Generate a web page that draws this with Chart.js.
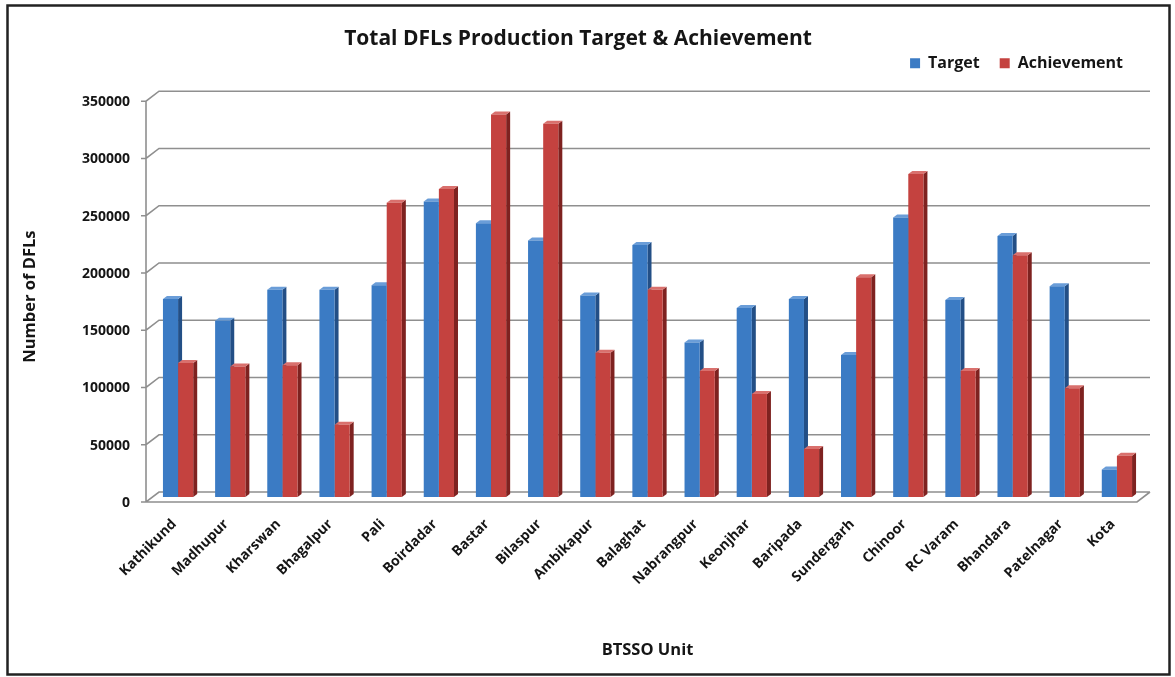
<!DOCTYPE html>
<html>
<head>
<meta charset="utf-8">
<title>Total DFLs Production Target & Achievement</title>
<script src="https://cdn.jsdelivr.net/npm/chart.js@4.4.1/dist/chart.umd.min.js"></script>
<style>
    html, body { margin: 0; padding: 0; background: #fff; }
    #wrap { width: 1175px; height: 677px; }
</style>
</head>
<body>
<div id="wrap"><canvas id="dflChart" width="1175" height="677"></canvas></div>
<script>
// Units and their figures
const units = ['Kathikund', 'Madhupur', 'Kharswan', 'Bhagalpur', 'Pali', 'Boirdadar', 'Bastar',
    'Bilaspur', 'Ambikapur', 'Balaghat', 'Nabrangpur', 'Keonjhar', 'Baripada', 'Sundergarh',
    'Chinoor', 'RC Varam', 'Bhandara', 'Patelnagar', 'Kota'];
const target = [173000, 154000, 181000, 181000, 185000, 258000, 239000, 224000, 176000, 220000,
    135000, 165000, 173000, 124000, 244000, 172000, 228000, 184000, 24000];
const achievement = [117000, 114000, 115000, 63000, 257000, 269000, 334000, 326000, 126000, 181000,
    110000, 90000, 42000, 192000, 282000, 110000, 211000, 95000, 36000];
const yTicks = [0, 50000, 100000, 150000, 200000, 250000, 300000, 350000];

const FONT = "'Open Sans', 'DejaVu Sans', sans-serif";
const INK = '#151515';

// front plane / back wall offsets relative to the bar plane
const front = { x: -6, y: 5 };
const back = { x: 7, y: -5 };
const depth = { x: 4, y: 3 };

// white page with a dark frame
const framePlugin = {
    id: 'frame',
    beforeDraw(chart) {
        const ctx = chart.ctx;
        ctx.save();
        ctx.fillStyle = '#fff';
        ctx.fillRect(0, 0, chart.width, chart.height);
        ctx.strokeStyle = '#222';
        ctx.lineWidth = 2.5;
        ctx.strokeRect(7.5, 5.5, chart.width - 13, chart.height - 8);
        ctx.restore();
    }
};

// back wall gridlines, floor and front axis
const wallPlugin = {
    id: 'wall',
    beforeDatasetsDraw(chart) {
        const ctx = chart.ctx;
        const { left, right, top, bottom } = chart.chartArea;
        const y = chart.scales.y;
        ctx.save();
        ctx.strokeStyle = '#8f8f8f';
        ctx.lineWidth = 1.6;
        ctx.beginPath();
        yTicks.forEach(v => {
            const py = y.getPixelForValue(v);
            ctx.moveTo(left + front.x - 5, py + front.y);
            ctx.lineTo(left + front.x, py + front.y);
            ctx.lineTo(left + back.x, py + back.y);
            ctx.lineTo(right + back.x, py + back.y);
        });
        // front axis line
        ctx.moveTo(left + front.x, top + front.y);
        ctx.lineTo(left + front.x, bottom + front.y);
        // floor front edge and right side
        ctx.moveTo(left + front.x, bottom + front.y);
        ctx.lineTo(right + front.x, bottom + front.y);
        ctx.lineTo(right + back.x, bottom + back.y);
        ctx.stroke();
        ctx.restore();
    }
};

// side and top faces of each bar, drawn before the fronts
const bars3dPlugin = {
    id: 'bars3d',
    beforeDatasetsDraw(chart) {
        const ctx = chart.ctx;
        ctx.save();
        chart.data.datasets.forEach((ds, i) => {
            chart.getDatasetMeta(i).data.forEach(bar => {
                const { x, y, base, width } = bar.getProps(['x', 'y', 'base', 'width'], true);
                const l = x - width / 2;
                const r = x + width / 2;

                ctx.fillStyle = ds.sideColor;
                ctx.beginPath();
                ctx.moveTo(r, y);
                ctx.lineTo(r + depth.x, y - depth.y);
                ctx.lineTo(r + depth.x, base - depth.y);
                ctx.lineTo(r, base);
                ctx.closePath();
                ctx.fill();

                ctx.fillStyle = ds.topColor;
                ctx.beginPath();
                ctx.moveTo(l, y);
                ctx.lineTo(l + depth.x, y - depth.y);
                ctx.lineTo(r + depth.x, y - depth.y);
                ctx.lineTo(r, y);
                ctx.closePath();
                ctx.fill();
            });
        });
        ctx.restore();
    }
};

// extra room under the legend
const legendSpacer = {
    id: 'legendSpacer',
    beforeInit(chart) {
        const fit = chart.legend.fit;
        chart.legend.fit = function () {
            fit.bind(chart.legend)();
            this.height += 15;
        };
    }
};

const ctx = document.getElementById('dflChart');

new Chart(ctx, {
    type: 'bar',
    data: {
        labels: units,
        datasets: [
            {
                label: 'Target',
                data: target,
                backgroundColor: '#3b7bc4',
                sideColor: '#234f86',
                topColor: '#6a9dd8',
                categoryPercentage: 0.58,
                barPercentage: 1
            },
            {
                label: 'Achievement',
                data: achievement,
                backgroundColor: '#c4423f',
                sideColor: '#7e2220',
                topColor: '#d9706d',
                categoryPercentage: 0.58,
                barPercentage: 1
            }
        ]
    },
    options: {
        responsive: false,
        animation: false,
        layout: {
            padding: { left: 13, right: 32, top: 0, bottom: 0 }
        },
        plugins: {
            title: {
                display: true,
                text: 'Total DFLs Production Target & Achievement',
                color: INK,
                font: { family: FONT, size: 21, weight: 'bold' },
                padding: { top: 26, bottom: -16 }
            },
            legend: {
                position: 'top',
                align: 'end',
                labels: {
                    color: INK,
                    font: { family: FONT, size: 16, weight: 'bold' },
                    boxWidth: 10,
                    boxHeight: 10,
                    padding: 20
                }
            },
            tooltip: { enabled: false }
        },
        scales: {
            x: {
                grid: { display: false, drawTicks: false },
                border: { display: false },
                ticks: {
                    color: INK,
                    font: { family: FONT, size: 14, weight: 'bold' },
                    minRotation: 45,
                    maxRotation: 45,
                    autoSkip: false,
                    padding: 19,
                    labelOffset: -4
                },
                title: {
                    display: true,
                    text: 'BTSSO Unit',
                    color: INK,
                    font: { family: FONT, size: 16.5, weight: 'bold' },
                    padding: { top: 0, bottom: 17 }
                },
                afterFit(scale) {
                    scale.height = 180;
                }
            },
            y: {
                min: 0,
                max: 350000,
                grid: { display: false, drawTicks: false },
                border: { display: false },
                ticks: {
                    stepSize: 50000,
                    color: INK,
                    font: { family: FONT, size: 14, weight: 'bold' },
                    padding: 22,
                    labelOffset: 6,
                    callback: v => String(v)
                },
                title: {
                    display: true,
                    text: 'Number of DFLs',
                    color: INK,
                    font: { family: FONT, size: 16.5, weight: 'bold' },
                    padding: { top: 7, bottom: 0 }
                },
                afterFit(scale) {
                    scale.width = 139;
                }
            }
        }
    },
    plugins: [framePlugin, wallPlugin, bars3dPlugin, legendSpacer]
});
</script>
</body>
</html>
